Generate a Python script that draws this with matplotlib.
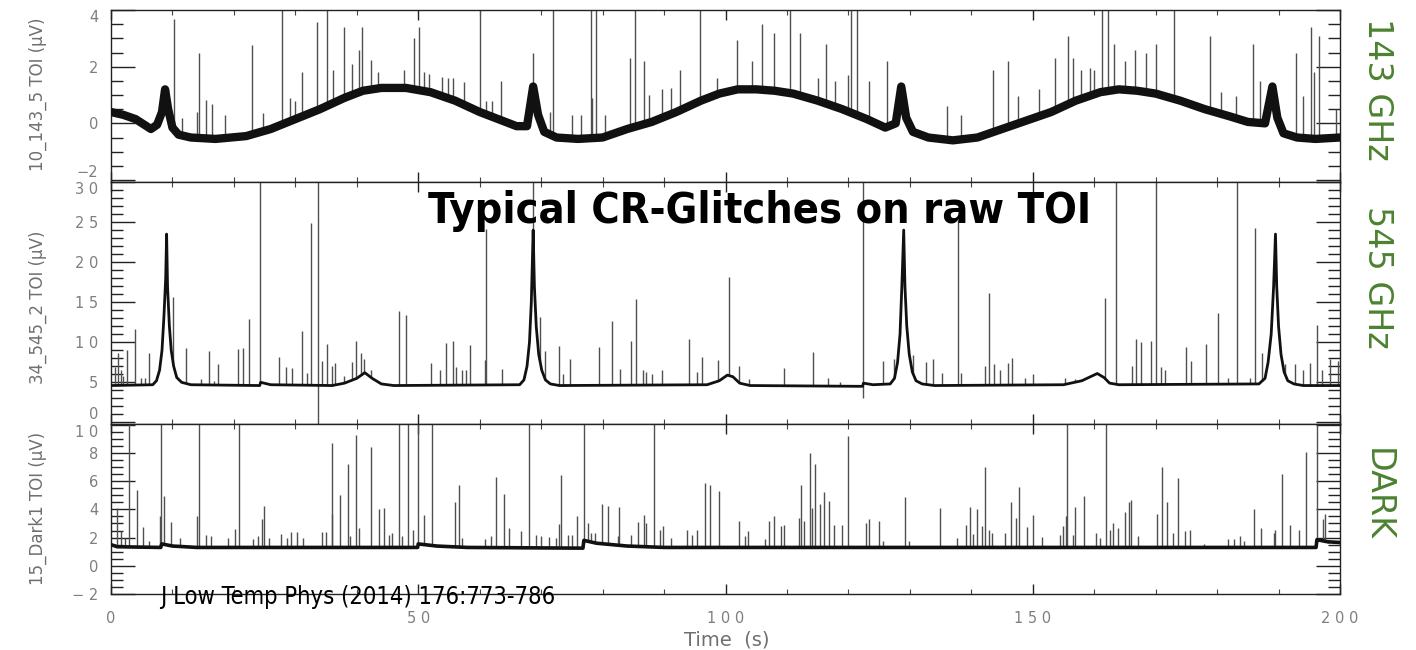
import numpy as np
import matplotlib
matplotlib.use("Agg")
import matplotlib.pyplot as plt
from matplotlib.ticker import MultipleLocator, FixedLocator, FixedFormatter

# ---------------- data ----------------
# 143 GHz panel: slow baseline (µV) and glitch peaks
top_base_t = [0, 2, 4, 6.5, 7.5, 8.3, 8.8, 9.3, 10, 11, 13, 17, 22, 26, 30, 34, 38, 41, 44, 48,
              52, 56, 60, 63, 66, 67.7, 68.7, 69.5, 70.5, 72.5, 76, 80, 84, 88, 92, 96, 99, 102,
              105, 108, 111, 115, 119, 123, 126, 127.7, 128.6, 129.4, 130.5, 133, 137, 141, 145,
              149, 153, 157, 161, 164, 167, 170, 174, 178, 182, 185, 187.8, 189.0, 189.8, 190.8,
              193, 196, 200]
top_base_v = [0.4, 0.3, 0.15, -0.2, -0.05, 0.4, 1.2, 0.5, -0.15, -0.4, -0.5, -0.55, -0.45, -0.2,
              0.15, 0.5, 0.9, 1.15, 1.25, 1.25, 1.1, 0.8, 0.4, 0.15, -0.1, -0.1, 1.3, 0.3, -0.3,
              -0.5, -0.55, -0.5, -0.2, 0.05, 0.4, 0.8, 1.05, 1.2, 1.2, 1.15, 1.05, 0.8, 0.5, 0.15,
              -0.15, 0.0, 1.3, 0.2, -0.3, -0.5, -0.6, -0.5, -0.2, 0.1, 0.4, 0.8, 1.1, 1.2, 1.15,
              1.05, 0.8, 0.5, 0.25, 0.05, 0.0, 1.3, 0.2, -0.35, -0.5, -0.55, -0.5]
top_glitch_t = [10.25, 11.5, 14.0, 14.3, 15.5, 16.4, 18.6, 23.0, 24.8, 27.8, 29.1, 30.0, 31.1, 33.5,
                35.1, 36.1, 37.9, 39.2, 40.4, 40.8, 42.3, 43.5, 47.7, 49.3, 50.1, 51.0, 51.8, 53.8,
                54.8, 55.6, 57.5, 60.0, 61.0, 62.0, 63.5, 68.6, 71.4, 72.0, 75.0, 76.5, 78.1, 78.3,
                78.9, 80.4, 84.5, 85.3, 86.8, 87.6, 89.7, 91.2, 92.6, 95.8, 98.6, 101.9, 104.3,
                106.0, 107.9, 110.5, 112.2, 115.1, 116.4, 117.8, 119.9, 120.4, 121.4, 123.3, 126.3,
                136.0, 138.4, 143.5, 146.0, 147.6, 151.0, 153.7, 155.7, 156.5, 157.8, 159.3, 160.0,
                161.3, 162.2, 163.3, 165.0, 166.6, 168.4, 170.0, 173.0, 178.9, 180.7, 183.0, 185.8,
                186.9, 192.8, 194.0, 195.3, 195.8, 196.6, 199.3]
top_glitch_v = [3.68, 0.2, 0.4, 2.5, 0.82, 0.7, 0.3, 2.78, 0.35, 4.5, 0.9, 0.8, 1.82, 3.57,
                4.5, 1.9, 3.4, 2.1, 2.6, 3.4, 2.25, 1.8, 1.9, 3.0, 3.4, 1.8, 1.75, 1.65,
                1.6, 1.6, 1.45, 4.5, 0.8, 0.8, 1.5, 2.5, 0.4, 4.5, 0.3, 0.3, 4.5, 0.9,
                4.5, 0.3, 2.3, 4.5, 2.2, 1.0, 1.2, 1.25, 1.9, 4.5, 1.6, 2.95, 2.2,
                3.5, 3.2, 4.5, 3.2, 1.6, 2.8, 1.5, 1.7, 4.5, 4.5, 1.5, 2.2,
                0.6, 0.3, 1.9, 2.2, 0.95, 1.2, 2.3, 3.1, 2.3, 1.9, 1.95, 1.9,
                4.5, 4.5, 2.8, 2.2, 2.6, 2.5, 2.8, 4.5, 3.1, 1.1, 0.95, 2.8,
                1.5, 2.5, 0.95, 3.4, 1.8, 3.1, 0.5]

# 545 GHz panel
mid_base_t = [0, 6.8, 7.4, 7.9, 8.3, 8.6, 8.9, 9.05, 9.2, 9.5, 9.8, 10.2, 10.7, 11.5, 13, 24.2,
              24.35, 26, 36, 38, 40, 41.3, 42.5, 44, 46, 66.5, 67.2, 67.7, 68.1, 68.4, 68.7, 68.9,
              69.2, 69.6, 70.1, 70.7, 71.5, 73, 97, 99, 100.3, 101.2, 102.3, 104, 122.3, 122.45,
              124, 126.8, 127.5, 128, 128.4, 128.7, 129.0, 129.2, 129.5, 129.9, 130.4, 131, 132,
              134, 155, 158, 160.5, 161.6, 162.5, 164, 186.8, 187.8, 188.3, 188.8, 189.2, 189.5,
              189.7, 190, 190.4, 190.9, 191.5, 192.5, 194, 200]
mid_base_v = [4.6, 4.7, 5.2, 6.5, 9, 13, 18, 23.5, 17, 12, 9, 7, 5.6, 5.0, 4.7, 4.6,
              5.0, 4.7, 4.6, 4.9, 5.5, 6.2, 5.5, 4.8, 4.6, 4.7, 5.3, 7, 10, 15, 24, 17,
              12, 8.5, 6.5, 5.3, 4.8, 4.6, 4.7, 5.2, 5.9, 5.7, 4.9, 4.6, 4.5, 4.9,
              4.7, 4.8, 5.5, 7.5, 11, 17, 24, 17, 12, 8.5, 6.3, 5.2, 4.8,
              4.6, 4.7, 5.2, 6.1, 5.6, 4.9, 4.7, 4.8, 5.5, 7.5, 11, 17, 23.5,
              17, 12, 8.5, 6.3, 5.2, 4.8, 4.6, 4.6]
mid_glitch_t = [0.63, 1.08, 1.6, 1.92, 2.56, 3.98, 4.81, 5.46, 6.23, 10.09, 12.21, 14.65, 15.9,
                16.7, 17.4, 20.7, 21.5, 22.4, 24.3, 27.3, 28.5, 29.4, 31.1, 31.9, 32.6, 34.3,
                35.2, 36.0, 36.4, 37.9, 39.2, 39.8, 40.7, 41.2, 42.3, 46.8, 48.0, 52.1, 53.6,
                54.5, 55.6, 56.1, 57.2, 57.8, 58.5, 60.9, 61.1, 63.7, 68.7, 69.8, 70.7, 72.9,
                73.6, 74.7, 79.4, 81.5, 82.8, 84.6, 85.4, 86.5, 87.0, 88.1, 89.7, 94.1, 95.3,
                96.2, 98.7, 100.5, 102.2, 103.8, 109.5, 114.3, 116.7, 118.7, 125.7, 127.5,
                130.5, 132.7, 133.7, 135.2, 137.9, 138.4, 142.2, 142.8, 143.7, 144.7, 146.0,
                146.6, 148.8, 150.1, 155.2, 156.9, 161.8, 163.6, 166.1, 166.8, 167.6, 169.2,
                170.0, 170.8, 171.5, 174.9, 175.7, 178.2, 180.2, 181.8, 183.2, 185.4, 186.2,
                187.3, 191.0, 192.6, 193.9, 195.1, 196.2, 197.1, 198.4, 199.7]
mid_glitch_v = [6.9, 8.6, 6.5, 5.8, 9.0, 11.6, 5.6, 5.6, 8.6, 15.6, 9.3, 5.4, 8.9,
                5.2, 7.3, 9.2, 9.3, 12.9, 32, 8.1, 6.9, 6.8, 11.4, 6.2, 24.9, 7.7,
                9.8, 7.1, 7.4, 5.8, 7.5, 10.2, 8.6, 7.9, 6.5, 13.9, 13.4, 7.4, 6.5,
                9.9, 10.2, 6.9, 6.5, 6.6, 9.7, 7.8, 24.1, 6.7, 32, 13.1, 8.9, 9.5,
                6.0, 7.9, 9.4, 12.7, 6.7, 10.2, 15.4, 6.5, 6.3, 6.0, 6.5, 10.4, 6.3,
                8.1, 7.8, 18.1, 7.1, 5.4, 6.8, 8.8, 5.5, 5.1, 7.7, 7.9,
                8.4, 7.5, 7.9, 6.2, 25.2, 6.2, 7.1, 16.1, 7.3, 6.6, 7.4,
                8.0, 5.6, 6.0, 5.6, 5.4, 15.5, 32, 7.1, 10.4, 10.0, 10.2,
                32, 6.9, 6.5, 9.4, 7.7, 9.8, 13.6, 5.6, 32, 5.6, 24.3,
                8.6, 7.3, 7.3, 6.5, 7.4, 12.2, 6.5, 7.9, 7.7]
# glitches in the 545 GHz panel that start below the baseline
mid_drop_t = [33.7, 122.4]
mid_drop_lo = [-1.0, 3.0]
mid_drop_hi = [32, 32]

# Dark panel
bot_base_t = [0, 1, 8.1, 8.25, 10, 14, 49.9, 50.0, 53, 58, 76.8, 76.95, 79, 84, 90, 196.1,
              196.25, 198, 200]
bot_base_v = [1.5, 1.35, 1.3, 1.55, 1.4, 1.3, 1.3, 1.55, 1.4, 1.3, 1.25, 1.8, 1.6, 1.4, 1.3,
              1.3, 1.85, 1.7, 1.65]
bot_glitch_t = [3.0, 8.2, 14.3, 20.8, 46.9, 48.4, 50.0, 52.3, 68.0, 76.9, 88.4,
                0.95, 1.6, 2.24, 4.17, 5.2, 6.23, 8.03, 8.67, 9.83, 11.2, 13.95, 15.4, 16.3,
                19.0, 20.1, 23.1, 24.0, 24.6, 24.9, 25.7, 27.6, 28.6, 29.3, 30.2, 31.2, 34.4,
                35.0, 35.9, 36.0, 37.2, 38.5, 38.9, 39.9, 40.3, 42.3, 43.6, 44.4, 45.2, 45.8,
                47.4, 49.1, 51.0, 56.0, 56.6, 57.2, 60.8, 61.9, 62.7, 64.0, 64.8, 66.8, 69.1,
                69.9, 71.2, 72.4, 72.9, 73.3, 74.4, 75.1, 75.8, 77.7, 78.1, 78.8, 79.9, 80.8,
                82.5, 82.7, 84.6, 85.7, 86.8, 87.1, 89.4, 89.9, 91.1, 93.8, 94.6, 95.3, 96.6,
                97.4, 98.9,
                102.2, 103.2, 103.7, 106.4, 107.0, 107.9, 109.0, 109.5, 112.0, 112.3, 112.8,
                113.7, 114.1, 114.5, 115.3, 116.0, 116.9, 117.7, 118.9, 119.9, 122.9, 123.4,
                125.0, 125.6, 129.2, 129.9, 134.9, 137.6, 139.2, 139.8, 140.3, 140.9, 141.7,
                142.2, 142.8, 143.4, 145.5, 146.5, 147.2, 147.8, 149.0, 150.0, 151.5, 154.5,
                155.0, 155.4, 155.6, 156.5, 156.9, 158.3, 160.3, 160.9, 162.0, 162.6, 163.0,
                163.9, 165.0, 165.6, 166.0, 167.1, 170.3, 171.0, 171.8, 172.8, 173.6, 174.8,
                175.6, 177.9, 181.8, 182.8, 183.7, 184.4, 186.0, 187.1, 189.2, 189.5, 190.5,
                191.8, 193.3, 194.4, 196.2, 197.2, 197.6, 198.1]
bot_glitch_v = [11, 11, 11, 11, 11, 11, 11, 11, 11, 11, 11,
                4.1, 2.45, 2.0, 5.35, 2.73, 1.76, 3.5, 4.93, 3.1, 2.0, 3.5, 2.15, 2.1,
                2.0, 2.6, 1.92, 2.1, 3.3, 4.25, 2.0, 2.22, 2.0, 2.4, 2.4, 2.0, 2.4,
                2.4, 3.7, 8.7, 5.0, 7.2, 2.1, 9.3, 2.7, 8.4, 4.0, 4.1, 2.2, 2.3,
                2.1, 2.56, 3.6, 4.5, 5.7, 2.0, 1.92, 2.1, 6.3, 5.1, 2.7, 2.45, 2.2,
                2.1, 2.06, 2.0, 2.96, 6.4, 2.2, 2.2, 3.5, 3.0, 2.3, 2.3, 4.35, 4.25,
                2.1, 4.2, 2.2, 3.1, 3.6, 3.03, 2.56, 2.8, 2.0, 2.56, 2.2, 2.56, 5.9,
                5.7, 5.3,
                3.15, 2.1, 2.5, 1.92, 3.2, 3.5, 2.85, 2.9, 3.4, 5.7, 3.2,
                8.0, 4.1, 7.2, 4.4, 5.2, 4.6, 2.9, 2.9, 9.2, 3.0, 3.3,
                3.15, 1.76, 4.9, 1.76, 4.1, 2.0, 2.9, 4.2, 2.26, 4.0, 2.8,
                6.97, 2.56, 2.3, 2.3, 4.5, 3.4, 5.6, 2.75, 3.6, 2.06, 2.2,
                2.8, 3.5, 11, 2.2, 4.15, 4.93, 2.3, 2.0, 11, 2.56, 3.0,
                2.7, 3.84, 4.5, 4.65, 2.1, 3.7, 6.97, 4.5, 2.3, 6.2, 2.5,
                2.56, 1.53, 1.875, 1.875, 2.1, 1.76, 4.0, 2.7, 2.3, 2.56, 6.5,
                2.9, 2.56, 8.1, 11, 3.3, 3.7, 1.64]

panel_ylabels = ["10_143_5 TOI (μV)", "34_545_2 TOI (μV)", "15_Dark1 TOI (μV)"]
panel_names = ["143 GHz", "545 GHz", "DARK"]
x_ticks = [0, 50, 100, 150, 200]
x_ticklabels = ["0", "5 0", "1 0 0", "1 5 0", "2 0 0"]
top_yticks = [-2, 0, 2, 4]
top_yticklabels = ["−2", "0", "2", "4"]
mid_yticks = [0, 5, 10, 15, 20, 25, 30]
mid_yticklabels = ["0", "5", "1 0", "1 5", "2 0", "2 5", "3 0"]
bot_yticks = [-2, 0, 2, 4, 6, 8, 10]
bot_yticklabels = ["− 2", "0", "2", "4", "6", "8", "1 0"]
title_text = "Typical CR-Glitches on raw TOI"
citation_text = "J Low Temp Phys (2014) 176:773-786"
xlabel_text = "Time  (s)"

# ---------------- drawing ----------------
W, H = 1416, 650
fig = plt.figure(figsize=(W / 100, H / 100), dpi=100)
fig.patch.set_facecolor("white")

L, R = 111 / W, 1340 / W
def box(y_top, y_bot):
    return [L, 1 - y_bot / H, R - L, (y_bot - y_top) / H]

ax_top = fig.add_axes(box(10, 182))
ax_mid = fig.add_axes(box(182, 424))
ax_bot = fig.add_axes(box(424, 594))

tick_col = "#7f7f7f"
glitch_col = "#505050"

def style(ax, ylim, yticks, ylabels, yminor, show_x):
    ax.set_xlim(0, 200)
    ax.set_ylim(*ylim)
    ax.xaxis.set_major_locator(FixedLocator(x_ticks))
    ax.xaxis.set_minor_locator(MultipleLocator(10))
    ax.yaxis.set_major_locator(FixedLocator(yticks))
    ax.yaxis.set_major_formatter(FixedFormatter(ylabels))
    ax.yaxis.set_minor_locator(MultipleLocator(yminor))
    ax.tick_params(axis="y", which="major", direction="in", length=17, width=1.0,
                   left=True, right=True, color="#222222", labelsize=10.5,
                   labelcolor=tick_col, pad=9)
    ax.tick_params(axis="y", which="minor", direction="in", length=8.5, width=1.0,
                   left=True, right=True, color="#222222")
    ax.tick_params(axis="x", which="major", direction="in", length=7, width=1.0,
                   top=True, bottom=True, color="#222222")
    ax.tick_params(axis="x", which="minor", direction="in", length=3.5, width=0.8,
                   top=True, bottom=True, color="#444444")
    if show_x:
        ax.set_xticklabels(x_ticklabels)
        ax.tick_params(axis="x", labelsize=10.5, labelcolor=tick_col, pad=12)
    else:
        ax.tick_params(axis="x", labelbottom=False)
    for s in ax.spines.values():
        s.set_color("#222222")
        s.set_linewidth(1.0)

def draw(ax, bt, bv, gt, gv, lw):
    base_at = np.interp(gt, bt, bv)
    ax.vlines(gt, base_at, gv, colors=glitch_col, linewidth=1.0, zorder=2)
    ax.plot(bt, bv, color="#111111", linewidth=lw, solid_joinstyle="round", zorder=3)

draw(ax_top, top_base_t, top_base_v, top_glitch_t, top_glitch_v, 6.0)
draw(ax_mid, mid_base_t, mid_base_v, mid_glitch_t, mid_glitch_v, 2.0)
ax_mid.vlines(mid_drop_t, mid_drop_lo, mid_drop_hi, colors=glitch_col, linewidth=1.0, zorder=2)
draw(ax_bot, bot_base_t, bot_base_v, bot_glitch_t, bot_glitch_v, 2.6)

style(ax_top, (-2.07, 4.0), top_yticks, top_yticklabels, 0.5, False)
style(ax_mid, (-0.2, 30.0), mid_yticks, mid_yticklabels, 1, False)
style(ax_bot, (-2.0, 10.05), bot_yticks, bot_yticklabels, 0.5, True)

# keep the edge labels of neighbouring panels apart (as in the IDL plot)
ax_top.yaxis.get_major_ticks()[0].label1.set_verticalalignment("bottom")
ax_top.yaxis.get_major_ticks()[-1].label1.set_verticalalignment("top")
ax_mid.yaxis.get_major_ticks()[0].label1.set_verticalalignment("bottom")
ax_mid.yaxis.get_major_ticks()[-1].label1.set_verticalalignment("top")
ax_bot.yaxis.get_major_ticks()[-1].label1.set_verticalalignment("top")

# y labels
for ycen, lab in zip([94, 307, 508], panel_ylabels):
    fig.text(38 / W, 1 - ycen / H, lab, rotation=90, ha="center", va="center",
             fontsize=12, color="#6f6f6f")

# right-hand green labels
green = "#4b8230"
for ycen, lab in zip([89, 277, 495], panel_names):
    fig.text(1377 / W, 1 - ycen / H, lab, rotation=-90, ha="center", va="center",
             fontsize=24, color=green)

fig.text(727 / W, 1 - 640 / H, xlabel_text, ha="center", va="center",
         fontsize=14, color="#6f6f6f")

fig.text(760 / W, 1 - 211 / H, title_text, ha="center", va="center",
         fontsize=31, fontweight="bold", fontstretch="condensed",
         family=["DejaVu Sans"], color="black", zorder=10)
fig.text(160 / W, 1 - 597 / H, citation_text, ha="left", va="center",
         fontsize=17, fontstretch="condensed", family=["DejaVu Sans"],
         color="black", zorder=10)

fig.savefig("out.png", dpi=100)
